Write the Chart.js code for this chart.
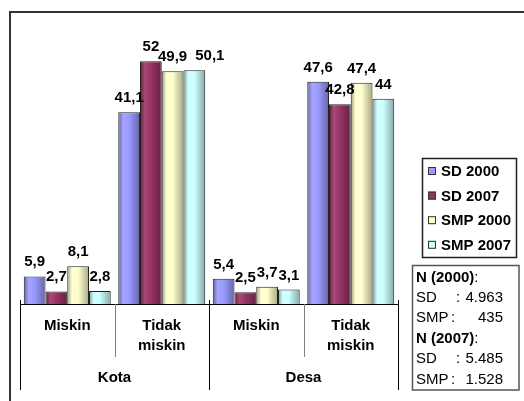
<!DOCTYPE html>
<html>
<head>
<meta charset="utf-8">
<script src="https://cdn.jsdelivr.net/npm/chart.js@4/dist/chart.umd.min.js"></script>
<style>
  html, body { margin: 0; padding: 0; background: #fff; }
  canvas { display: block; }
</style>
</head>
<body>
<canvas id="chart" width="524" height="401"></canvas>
<script>
// categories and their groups
var categories = ["Miskin", ["Tidak", "miskin"], "Miskin", ["Tidak", "miskin"]];
var groups = ["Kota", "Desa"];

// series values (%)
var seriesNames = ["SD 2000", "SD 2007", "SMP 2000", "SMP 2007"];
var sd2000 = [5.9, 41.1, 5.4, 47.6];
var sd2007 = [2.7, 52, 2.5, 42.8];
var smp2000 = [8.1, 49.9, 3.7, 47.4];
var smp2007 = [2.8, 50.1, 3.1, 44];

// sample sizes shown in the note box
var nTitles = ["N (2000)", "N (2007)"];
var n2000 = [["SD", "4.963"], ["SMP", "435"]];
var n2007 = [["SD", "5.485"], ["SMP", "1.528"]];

var colors = ["#9999FF", "#993366", "#FFFFCC", "#CCFFFF"];
var FONT = "'Liberation Sans', Arial, sans-serif";

function shade(hex, f) {
    var r = parseInt(hex.substr(1, 2), 16);
    var g = parseInt(hex.substr(3, 2), 16);
    var b = parseInt(hex.substr(5, 2), 16);
    function c(v) {
        v = f < 1 ? v * f : v + (255 - v) * (f - 1);
        return Math.max(0, Math.min(255, Math.round(v)));
    }
    return "rgb(" + c(r) + "," + c(g) + "," + c(b) + ")";
}

// cylinder-like shading on every bar
var barShading = {
    id: "barShading",
    beforeDatasetsDraw: function (chart) {
        var ctx = chart.ctx;
        chart.data.datasets.forEach(function (ds, di) {
            var base = colors[di];
            chart.getDatasetMeta(di).data.forEach(function (el) {
                if (Object.isFrozen(el.options)) return;
                var x0 = el.x - el.width / 2, x1 = el.x + el.width / 2;
                var g = ctx.createLinearGradient(x0, 0, x1, 0);
                g.addColorStop(0, shade(base, 0.62));
                g.addColorStop(0.22, shade(base, 1.12));
                g.addColorStop(0.5, base);
                g.addColorStop(1, shade(base, 0.66));
                el.options.backgroundColor = g;
            });
        });
    }
};

// value labels above the bars; a label that runs into its left neighbour is pushed right
var valueLabels = {
    id: "valueLabels",
    afterDatasetsDraw: function (chart) {
        var ctx = chart.ctx;
        var n = chart.data.datasets.length;
        ctx.save();
        ctx.font = "bold 15px " + FONT;
        ctx.fillStyle = "#000";
        ctx.textAlign = "center";
        ctx.textBaseline = "alphabetic";
        chart.data.labels.forEach(function (lab, i) {
            var prev = null;
            for (var di = 0; di < n; di++) {
                var el = chart.getDatasetMeta(di).data[i];
                var txt = String(chart.data.datasets[di].data[i]).replace(".", ",");
                var w = ctx.measureText(txt).width;
                var x = el.x, y = el.y - 10;
                if (prev && Math.abs(prev.y - y) < 12 && prev.right - (x - w / 2) > 3) {
                    x = prev.right + 8 + w / 2;
                }
                ctx.fillText(txt, x, y);
                prev = { right: x + w / 2, y: y };
            }
        });
        ctx.restore();
    }
};

// separators, group labels, legend, note box, frame
var decorations = {
    id: "decorations",
    afterDraw: function (chart) {
        var ctx = chart.ctx;
        var xs = chart.scales.x;
        var bottom = chart.chartArea.bottom;
        var step = xs.getPixelForValue(1) - xs.getPixelForValue(0);

        ctx.save();
        // category separators
        for (var k = 0; k <= categories.length; k++) {
            var x = Math.round(xs.getPixelForValue(0) - step / 2 + k * step) + 0.5;
            var major = k % 2 === 0;
            ctx.beginPath();
            ctx.strokeStyle = major ? "#000" : "#808080";
            ctx.lineWidth = 1;
            ctx.moveTo(x, major ? bottom - 4 : bottom);
            ctx.lineTo(x, major ? bottom + 86 : bottom + 53);
            ctx.stroke();
        }

        // group labels
        ctx.font = "bold 15px " + FONT;
        ctx.fillStyle = "#000";
        ctx.textAlign = "center";
        ctx.textBaseline = "middle";
        groups.forEach(function (g, gi) {
            var cx = (xs.getPixelForValue(gi * 2) + xs.getPixelForValue(gi * 2 + 1)) / 2;
            ctx.fillText(g, cx, bottom + 74);
        });

        // legend
        ctx.strokeStyle = "#222";
        ctx.lineWidth = 1.5;
        ctx.strokeRect(422.5, 158.5, 94, 99);
        ctx.textAlign = "left";
        seriesNames.forEach(function (name, i) {
            var y = 171 + i * 24.6;
            ctx.fillStyle = colors[i];
            ctx.fillRect(428, y - 4, 8, 8);
            ctx.strokeStyle = "#333";
            ctx.lineWidth = 1;
            ctx.strokeRect(428.5, y - 3.5, 7, 7);
            ctx.fillStyle = "#000";
            ctx.fillText(name, 441, y + 1);
        });

        // sample size note
        ctx.strokeStyle = "#555";
        ctx.lineWidth = 1.5;
        ctx.strokeRect(412.5, 265.5, 106.5, 124.5);
        var rows = [];
        [n2000, n2007].forEach(function (list, li) {
            rows.push({ title: nTitles[li] });
            list.forEach(function (r) { rows.push({ name: r[0], value: r[1] }); });
        });
        rows.forEach(function (r, i) {
            var y = 277.5 + i * 20.4;
            ctx.fillStyle = "#000";
            if (r.title) {
                ctx.textAlign = "left";
                ctx.font = "bold 15px " + FONT;
                ctx.fillText(r.title, 416, y);
                var w = ctx.measureText(r.title).width;
                ctx.font = "15px " + FONT;
                ctx.fillText(":", 416 + w, y);
            } else {
                ctx.font = "15px " + FONT;
                ctx.textAlign = "left";
                ctx.fillText(r.name, 416, y);
                ctx.fillText(":", r.name === "SD" ? 456 : 451, y);
                ctx.textAlign = "right";
                ctx.fillText(r.value, 503, y);
            }
        });

        // outer frame
        ctx.strokeStyle = "#333";
        ctx.lineWidth = 2;
        ctx.strokeRect(10, 12, 600, 500);
        ctx.restore();
    }
};

var ctx = document.getElementById("chart");

var data = {
    labels: categories,
    datasets: [sd2000, sd2007, smp2000, smp2007].map(function (values, i) {
        return {
            label: seriesNames[i],
            data: values,
            backgroundColor: function (c) { return colors[c.datasetIndex]; },
            borderColor: "#222",
            borderWidth: 1,
            categoryPercentage: 0.92,
            barPercentage: 1
        };
    })
};

var options = {
    responsive: false,
    animation: false,
    events: [],
    layout: { padding: { left: 20, right: 126, top: 24, bottom: 0 } },
    plugins: {
        legend: { display: false },
        tooltip: { enabled: false }
    },
    scales: {
        x: {
            grid: { display: false, drawTicks: false },
            border: { display: true, color: "#000", width: 1 },
            ticks: {
                color: "#000",
                padding: 12,
                autoSkip: false,
                maxRotation: 0,
                font: { family: FONT, size: 15, weight: "bold", lineHeight: 1.33 }
            },
            afterFit: function (scale) { scale.height = 97; }
        },
        y: {
            display: false,
            min: 0,
            max: 60
        }
    }
};

new Chart(ctx, {
    type: "bar",
    data: data,
    options: options,
    plugins: [barShading, valueLabels, decorations]
});
</script>
</body>
</html>
